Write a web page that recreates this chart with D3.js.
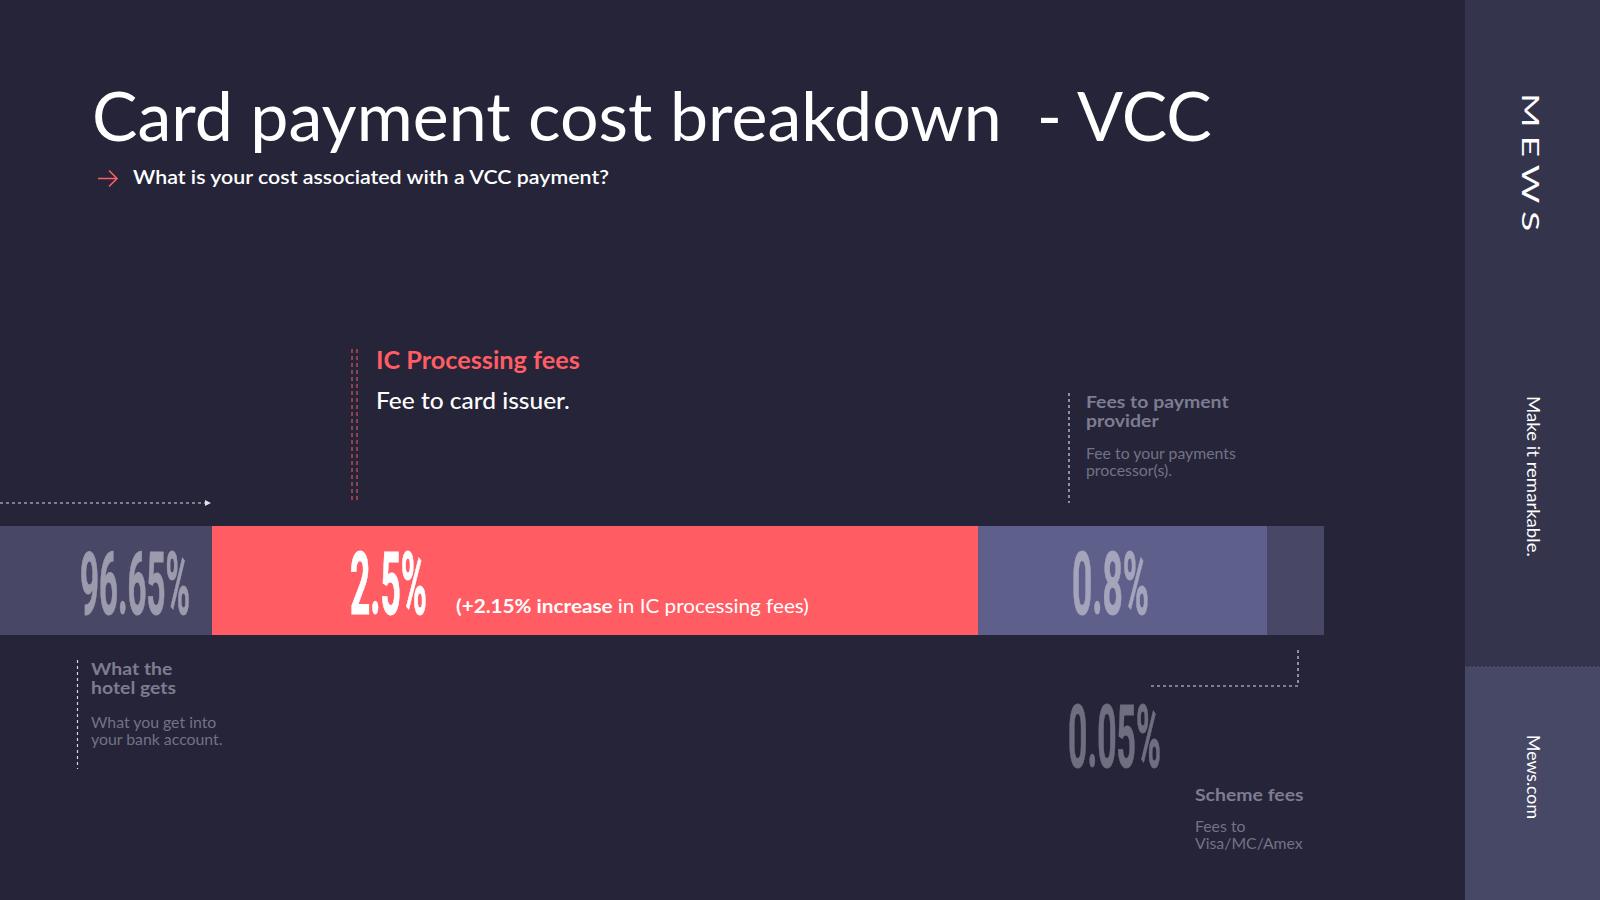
<!DOCTYPE html>
<html><head><meta charset="utf-8">
<script src="https://cdn.jsdelivr.net/npm/d3@7"></script>
<style>
html,body{margin:0;padding:0;background:#252438;overflow:hidden}
svg{display:block}
text{white-space:pre}
</style></head>
<body><svg id="chart" width="1600" height="900"></svg>
<script>
// ---------- data ----------
const categories = ["What the hotel gets", "IC Processing fees", "Fees to payment provider", "Scheme fees"];
const values = [96.65, 2.5, 0.8, 0.05];
const valueLabels = ["96.65%", "2.5%", "0.8%", "0.05%"];
const labelTitles = [["What the", "hotel gets"], ["IC Processing fees"], ["Fees to payment", "provider"], ["Scheme fees"]];
const labelDescriptions = [["What you get into", "your bank account."], ["Fee to card issuer."], ["Fee to your payments", "processor(s)."], ["Fees to", "Visa/MC/Amex"]];
const increaseNote = ["+2.15% increase", " in IC processing fees"];
const titleText = "Card payment cost breakdown  - VCC";
const subtitleText = "What is your cost associated with a VCC payment?";
const brandTexts = ["MEWS", "Make it remarkable.", "Mews.com"];

// ---------- styles ----------
const segColors = ["#484766", "#ff5c64", "#5f5f8c", "#484766"];
const numColors = ["#9c9bad", "#ffffff", "#a4a4ba", "#6f6e80"];
const greyTitle = "#7d7c90";
const greyDesc = "#737286";
const FONT = "Lato, 'Open Sans', sans-serif";
const NUMFONT = "Roboto, 'Liberation Sans', sans-serif";

const svg = d3.select("#chart");

// stretch/squeeze a text horizontally (in its own frame) to a target length
function fit(sel, x, y, target, extra = "") {
  const natural = sel.node().getComputedTextLength();
  const k = target / natural;
  sel.attr("x", 0).attr("y", 0)
    .attr("transform", `translate(${x},${y}) ${extra} scale(${k},1)`);
  return sel;
}

// background & side panel
svg.append("rect").attr("width", 1600).attr("height", 900).attr("fill", "#252438");
svg.append("rect").attr("x", 1465).attr("y", 0).attr("width", 135).attr("height", 667).attr("fill", "#35344d");
svg.append("rect").attr("x", 1465).attr("y", 667).attr("width", 135).attr("height", 233).attr("fill", "#474766");
svg.append("line").attr("x1", 1465).attr("x2", 1600).attr("y1", 667).attr("y2", 667)
  .attr("stroke", "#55557a").attr("stroke-width", 1).attr("stroke-dasharray", "2,2");

// brand texts (rotated)
const brandLayout = [
  {x: 1522, y: 93, size: 24, len: 146, spacing: 5, weight: 400},
  {x: 1527, y: 396, size: 18, len: 161, spacing: 0, weight: 400},
  {x: 1527, y: 735, size: 18, len: 84, spacing: 0, weight: 400}
];
brandTexts.forEach((t, i) => {
  const L = brandLayout[i];
  const tx = svg.append("text")
    .attr("font-family", FONT).attr("font-size", L.size)
    .attr("font-weight", L.weight).attr("letter-spacing", L.spacing)
    .attr("fill", "#ffffff")
    .text(t);
  fit(tx, L.x, L.y, L.len, "rotate(90)");
});

// title + subtitle
fit(svg.append("text")
  .attr("font-family", FONT).attr("font-size", 67).attr("font-weight", 400)
  .attr("fill", "#ffffff").text(titleText), 92, 141, 1120);
// arrow icon
svg.append("path").attr("d", "M98,178.5 H117 M109,170.5 L117,178.5 L109,186.5")
  .attr("fill", "none").attr("stroke", "#ff5c64").attr("stroke-width", 1.6);
fit(svg.append("text")
  .attr("font-family", FONT).attr("font-size", 19).attr("font-weight", 600)
  .attr("fill", "#ffffff").text(subtitleText), 133, 183.5, 476);

// ---------- scales ----------
const cum = Array.from(d3.cumsum(values));
const starts = [0, ...cum.slice(0, -1)];
const x = d3.scaleLinear().domain([0, ...cum]).range([0, 212, 978, 1267, 1324]);
const y = d3.scaleBand().domain(["VCC"]).range([526, 635]).padding(0);

const segs = categories.map((c, i) => ({c, v: values[i], s: starts[i], e: cum[i], i}));

svg.append("g").selectAll("rect").data(segs).join("rect")
  .attr("x", d => x(d.s)).attr("width", d => x(d.e) - x(d.s))
  .attr("y", y("VCC")).attr("height", y.bandwidth())
  .attr("fill", d => segColors[d.i]);

// value labels
const numLayout = [
  {x: 80, base: 614, len: 110},
  {x: 350, base: 614, len: 77},
  {x: 1072, base: 614, len: 77},
  {x: 1068, base: 767, len: 93}
];
segs.forEach(d => {
  const L = numLayout[d.i];
  fit(svg.append("text")
    .attr("font-family", NUMFONT).attr("font-size", 88).attr("font-weight", 700)
    .attr("fill", numColors[d.i]).attr("stroke", numColors[d.i]).attr("stroke-width", 1)
    .text(valueLabels[d.i]), L.x, L.base, L.len);
});

// increase note
const note = svg.append("text")
  .attr("font-family", FONT).attr("font-size", 19).attr("fill", "#ffffff");
note.append("tspan").attr("font-weight", 700).text("(" + increaseNote[0]);
note.append("tspan").attr("font-weight", 400).text(increaseNote[1] + ")");
fit(note, 456, 613, 353);

// ---------- annotations ----------
const dash = g => g.attr("stroke-dasharray", "3,3").attr("fill", "none");
// dotted arrow for hotel segment
svg.append("line").attr("x1", 0).attr("x2", 206).attr("y1", 503).attr("y2", 503)
  .attr("stroke", "#d8d8e0").attr("stroke-width", 1.2).call(dash);
svg.append("path").attr("d", "M205,500 L211,503 L205,506 Z").attr("fill", "#e0e0e8");

// IC processing double red dashed line
[352, 357].forEach(px => {
  svg.append("line").attr("x1", px).attr("x2", px).attr("y1", 349).attr("y2", 503)
    .attr("stroke", "#ff5c64").attr("stroke-width", 1).attr("stroke-dasharray", "4,3");
});
fit(svg.append("text")
  .attr("font-family", FONT).attr("font-size", 24).attr("font-weight", 700)
  .attr("fill", "#ff5c64").text(labelTitles[1][0]), 376, 369, 204);
fit(svg.append("text")
  .attr("font-family", FONT).attr("font-size", 23).attr("font-weight", 500)
  .attr("fill", "#ffffff").text(labelDescriptions[1][0]), 376, 409, 194);

// grey annotation blocks (multi-line texts as tspans, widened a little)
function multiline(lines, tx, base, lh, size, weight, color, sx) {
  const t = svg.append("text")
    .attr("transform", `translate(${tx},${base}) scale(${sx},1)`)
    .attr("font-family", FONT).attr("font-size", size).attr("font-weight", weight)
    .attr("fill", color);
  lines.forEach((s, k) => {
    t.append("tspan").attr("x", 0).attr("y", k * lh).text(s);
  });
}
function greyBlock(i, tx, titleBase, descBase) {
  multiline(labelTitles[i], tx, titleBase, 19.5, 16.2, 700, greyTitle, 1.2);
  multiline(labelDescriptions[i], tx, descBase, 17.5, 14.4, 400, greyDesc, 1.1);
}
// hotel
svg.append("line").attr("x1", 77.5).attr("x2", 77.5).attr("y1", 660).attr("y2", 769)
  .attr("stroke", "#d8d8e0").attr("stroke-width", 1.2).call(dash);
greyBlock(0, 91, 675, 728);
// provider
svg.append("line").attr("x1", 1069).attr("x2", 1069).attr("y1", 393).attr("y2", 503)
  .attr("stroke", "#d8d8e0").attr("stroke-width", 1.2).call(dash);
greyBlock(2, 1086, 408, 459);
// scheme
svg.append("path").attr("d", "M1151,686 H1298 V649")
  .attr("stroke", "#d8d8e0").attr("stroke-width", 1.2).call(dash);
greyBlock(3, 1195, 801, 832);
</script></body></html>
